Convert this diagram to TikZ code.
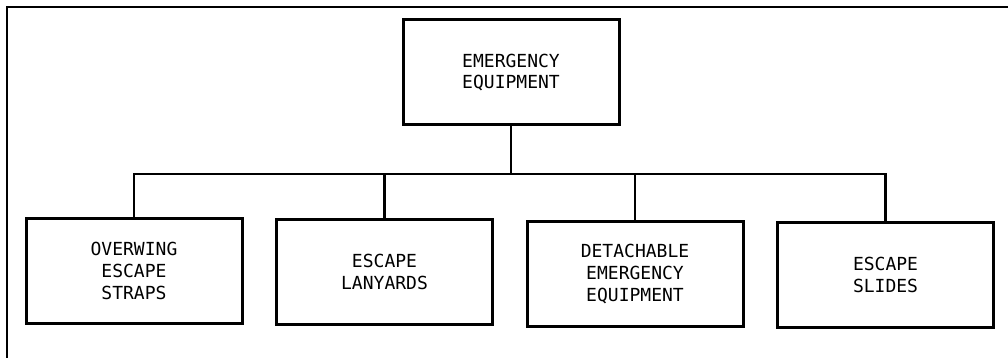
\documentclass[tikz,border=0pt]{standalone}
\usepackage{fontspec}
\newfontfamily\boxfont{DejaVu Sans Mono}
\begin{document}
\begin{tikzpicture}[x=1pt,y=-1pt,
  blockbox/.style={draw=black, line width=3pt, minimum width=216pt, minimum height=105pt,
    inner sep=0pt, align=center, font=\boxfont\fontsize{18}{21.7}\selectfont, text=black},
  link/.style={draw=black, line width=2.6pt}]
\useasboundingbox (0,0) rectangle (1008,358);
\draw[line width=2.6pt] (7,358) -- (7,7) -- (1008,7);
\node[blockbox] (top) at (511,72.5) {EMERGENCY\\EQUIPMENT};
\node[blockbox] (b1) at (134,271) {OVERWING\\ESCAPE\\STRAPS};
\node[blockbox] (b2) at (384.5,272) {ESCAPE\\LANYARDS};
\node[blockbox] (b3) at (635,274) {DETACHABLE\\EMERGENCY\\EQUIPMENT};
\node[blockbox] (b4) at (885.5,275) {ESCAPE\\SLIDES};
\coordinate (bus) at (511,174);
\draw[link] (top.south) -- (top.south |- bus);
\draw[link] (b1.north) -- (b1.north |- bus) -- (b4.north |- bus) -- (b4.north);
\draw[link] (b2.north) -- (b2.north |- bus);
\draw[link] (b3.north) -- (b3.north |- bus);
\end{tikzpicture}
\end{document}
